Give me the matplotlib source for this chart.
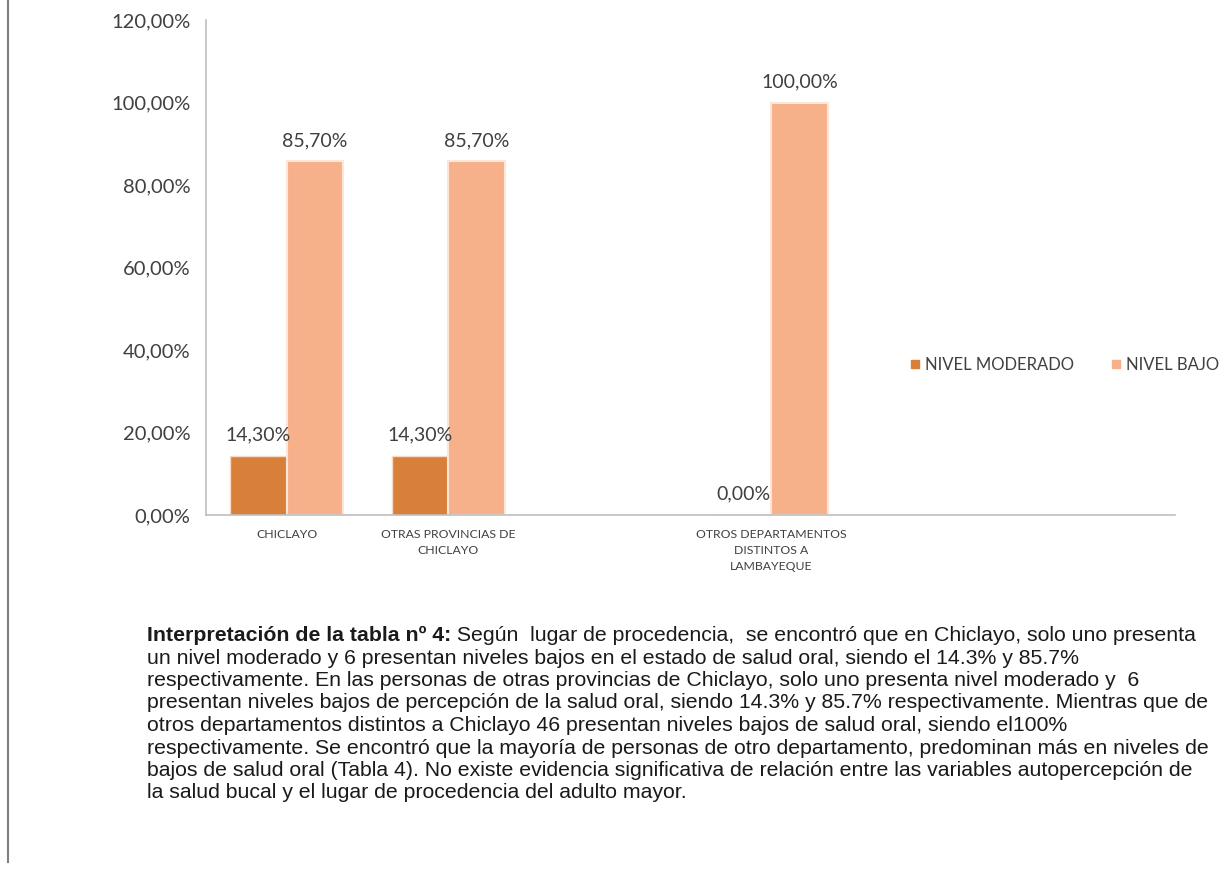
import numpy as np
import matplotlib
matplotlib.use("Agg")
import matplotlib.pyplot as plt
from matplotlib.ticker import FuncFormatter
from matplotlib.lines import Line2D

# datos (porcentaje), las categorias vacias son huecos del grafico original
categorias = ["CHICLAYO", "OTRAS PROVINCIAS DE\nCHICLAYO", "",
              "OTROS DEPARTAMENTOS\nDISTINTOS A\nLAMBAYEQUE", "", ""]
nivel_moderado = [14.3, 14.3, np.nan, 0.0, np.nan, np.nan]
nivel_bajo = [85.7, 85.7, np.nan, 100.0, np.nan, np.nan]
series = ["NIVEL MODERADO", "NIVEL BAJO"]
y_ticks = [0, 20, 40, 60, 80, 100, 120]

parrafo = [
    "un nivel moderado y 6 presentan niveles bajos en el estado de salud oral, siendo el 14.3% y 85.7%",
    "respectivamente. En las personas de otras provincias de Chiclayo, solo uno presenta nivel moderado y  6",
    "presentan niveles bajos de percepción de la salud oral, siendo 14.3% y 85.7% respectivamente. Mientras que de",
    "otros departamentos distintos a Chiclayo 46 presentan niveles bajos de salud oral, siendo el100%",
    "respectivamente. Se encontró que la mayoría de personas de otro departamento, predominan más en niveles de",
    "bajos de salud oral (Tabla 4). No existe evidencia significativa de relación entre las variables autopercepción de",
    "la salud bucal y el lugar de procedencia del adulto mayor.",
]
titulo_negrita = "Interpretación de la tabla nº 4:"
resto_linea1 = " Según  lugar de procedencia,  se encontró que en Chiclayo, solo uno presenta"

c_mod = "#D8803A"
c_bajo = "#F6B18A"

W, H = 1225, 874
fig = plt.figure(figsize=(W / 100, H / 100), dpi=100)
ax = fig.add_axes([206 / W, 1 - 515 / H, (1175 - 206) / W, (515 - 20) / H])

x = np.arange(len(categorias))
w = 0.35
b1 = ax.bar(x - w / 2, nivel_moderado, w, color=c_mod, edgecolor="#F3D9C6", linewidth=1.0,
            label=series[0])
b2 = ax.bar(x + w / 2, nivel_bajo, w, color=c_bajo, edgecolor="#FCE6DA", linewidth=1.5,
            label=series[1])

fmt = lambda v: f"{v:.2f}".replace(".", ",") + "%"
for bars, vals in [(b1, nivel_moderado), (b2, nivel_bajo)]:
    for r, v in zip(bars, vals):
        if np.isnan(v):
            continue
        ax.annotate(fmt(v), (r.get_x() + r.get_width() / 2, v), xytext=(0, 9),
                    textcoords="offset points", ha="center", va="bottom",
                    fontsize=14, family="Lato", color="#404040")

ax.set_xlim(-0.5, len(categorias) - 0.5)
ax.set_ylim(0, 120)
ax.set_yticks(y_ticks)
ax.yaxis.set_major_formatter(FuncFormatter(lambda v, p: fmt(v)))
ax.set_xticks(x)
ax.set_xticklabels(categorias, fontsize=8.8, family="Lato", color="#404040", linespacing=1.55)
for lab in ax.get_yticklabels():
    lab.set_family("Lato")
    lab.set_fontsize(14.5)
    lab.set_color("#404040")
ax.tick_params(length=0)
ax.tick_params(axis="y", pad=11)
ax.tick_params(axis="x", pad=10)
for s in ["top", "right"]:
    ax.spines[s].set_visible(False)
ax.spines["left"].set_color("#BFBFBF")
ax.spines["bottom"].set_color("#BFBFBF")
ax.spines["left"].set_linewidth(1.2)
ax.spines["bottom"].set_linewidth(1.2)

handles = [Line2D([], [], marker="s", ls="", color=c, markersize=6) for c in (c_mod, c_bajo)]
fig.legend(handles, series, loc="center left", bbox_to_anchor=(892 / W, 1 - 365 / H), ncol=2,
           frameon=False, prop={"family": "Lato", "size": 12}, handletextpad=0.1,
           columnspacing=2.0, handlelength=1.0, labelcolor="#404040")

# linea del borde de pagina
fig.add_artist(Line2D([8 / W, 8 / W], [1 - 862 / H, 1], color="#7F7F7F", lw=1.5))

# texto de interpretacion
x0 = 147 / W
y0 = 1 - 641 / H
dy = 22.5 / H
fs = 15.3
t = fig.text(x0, y0, titulo_negrita, fontsize=fs, family="Liberation Sans", weight="bold",
             color="#1a1a1a", va="baseline")
fig.canvas.draw()
bb = t.get_window_extent()
fig.text(bb.x1 / W, y0, resto_linea1, fontsize=fs, family="Liberation Sans", color="#1a1a1a",
         va="baseline")
for i, linea in enumerate(parrafo):
    fig.text(x0, y0 - (i + 1) * dy, linea, fontsize=fs, family="Liberation Sans",
             color="#1a1a1a", va="baseline")

fig.savefig("out.png", dpi=100, facecolor="white")
